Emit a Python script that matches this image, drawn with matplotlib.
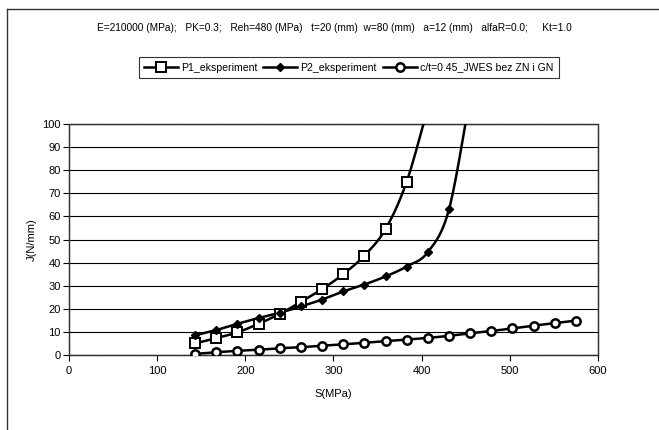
import numpy as np
import matplotlib.pyplot as plt
from matplotlib.lines import Line2D

plt.rcParams['font.family'] = ['Liberation Sans', 'DejaVu Sans']

title = ("E=210000 (MPa);   PK=0.3;   Reh=480 (MPa)   t=20 (mm)  w=80 (mm)   "
         "a=12 (mm)   alfaR=0.0;     Kt=1.0")
names = ["P1_eksperiment", "P2_eksperiment", "c/t=0.45_JWES bez ZN i GN"]

# values (last P1/P2 points lie above the 100 limit)
s_p1 = [143, 167, 191, 215, 239, 263, 287, 311, 335, 359, 383, 407]
j_p1 = [5.0, 7.3, 9.8, 13.5, 17.8, 23.0, 28.5, 35.0, 43.0, 54.5, 75.0, 107.0]
s_p2 = [143, 167, 191, 215, 239, 263, 287, 311, 335, 359, 383, 407, 431, 455]
j_p2 = [8.5, 10.8, 13.5, 16.0, 18.3, 21.0, 24.0, 27.5, 30.5, 34.0, 38.3, 44.5, 63.0, 112.0]
s_c = [143, 167, 191, 215, 239, 263, 287, 311, 335, 359, 383, 407, 431, 455, 479, 503, 527, 551, 575]
j_c = [0.5, 1.2, 1.8, 2.3, 2.9, 3.4, 4.0, 4.6, 5.3, 6.0, 6.7, 7.4, 8.3, 9.4, 10.4, 11.5, 12.7, 13.8, 14.9]


def smooth(xs, ys, n=30):
    # excel-like smoothed line (bezier through the points)
    p = np.column_stack([xs, ys]).astype(float)
    pts = np.vstack([p[0], p, p[-1]])
    out = []
    t = np.linspace(0, 1, n)[:, None]
    for i in range(1, len(pts) - 2):
        p0, p1, p2, p3 = pts[i - 1], pts[i], pts[i + 1], pts[i + 2]
        c1 = p1 + (p2 - p0) / 6
        c2 = p2 - (p3 - p1) / 6
        seg = ((1 - t) ** 3) * p1 + 3 * ((1 - t) ** 2) * t * c1 + 3 * (1 - t) * t ** 2 * c2 + t ** 3 * p2
        out.append(seg)
    out = np.vstack(out)
    return out[:, 0], out[:, 1]


fig = plt.figure(figsize=(6.59, 4.30), dpi=100)
ax = fig.add_axes([0.1047, 0.1744, 0.8027, 0.5372])

styles = [
    dict(marker='s', ms=6.5, mfc='white', mec='black', mew=1.4),
    dict(marker='D', ms=4.5, mfc='black', mec='black', mew=1.0),
    dict(marker='o', ms=6, mfc='white', mec='black', mew=1.8),
]
handles = []
for (xs, ys), st, nm in zip([(s_p1, j_p1), (s_p2, j_p2), (s_c, j_c)], styles, names):
    sx, sy = smooth(xs, ys)
    ax.plot(sx, sy, color='black', lw=1.8, zorder=3)
    ax.plot(xs, ys, ls='none', zorder=4, **st)
    handles.append(Line2D([], [], color='black', lw=1.8, label=nm, **st))

ax.set_xlim(0, 600)
ax.set_ylim(0, 100)
ax.set_xticks(range(0, 601, 100))
ax.set_yticks(range(0, 101, 10))
ax.yaxis.grid(True, color='black', lw=0.8)
ax.set_axisbelow(True)
for sp in ax.spines.values():
    sp.set_color('#333333')
    sp.set_linewidth(1.0)
    sp.set_linestyle((0, (1, 0.6)))
ax.tick_params(labelsize=8, length=4, direction='out')
ax.tick_params(axis='x', pad=4)
ax.tick_params(axis='y', pad=2)
ax.set_xlabel('S(MPa)', fontsize=8, labelpad=9)
ax.set_ylabel('J(N/mm)', fontsize=8)
ax.yaxis.set_label_coords(-0.06, 0.5)

fig.text(0.508, 0.935, title, fontsize=7.3, ha='center', va='center')
fig.legend(handles=handles, loc='center', bbox_to_anchor=(0.529, 0.843), ncol=3,
           fontsize=7.6, frameon=True, fancybox=False, edgecolor='black',
           handlelength=3.2, columnspacing=0.6, handletextpad=0.3,
           borderpad=0.5).get_frame().set_linewidth(0.8)

# chart area frame
fig.add_artist(Line2D([0.011, 0.011], [0.0, 0.979], color='#333333', lw=1.0))
fig.add_artist(Line2D([0.011, 1.0], [0.979, 0.979], color='#333333', lw=1.0))

fig.savefig('out.png', dpi=100)
